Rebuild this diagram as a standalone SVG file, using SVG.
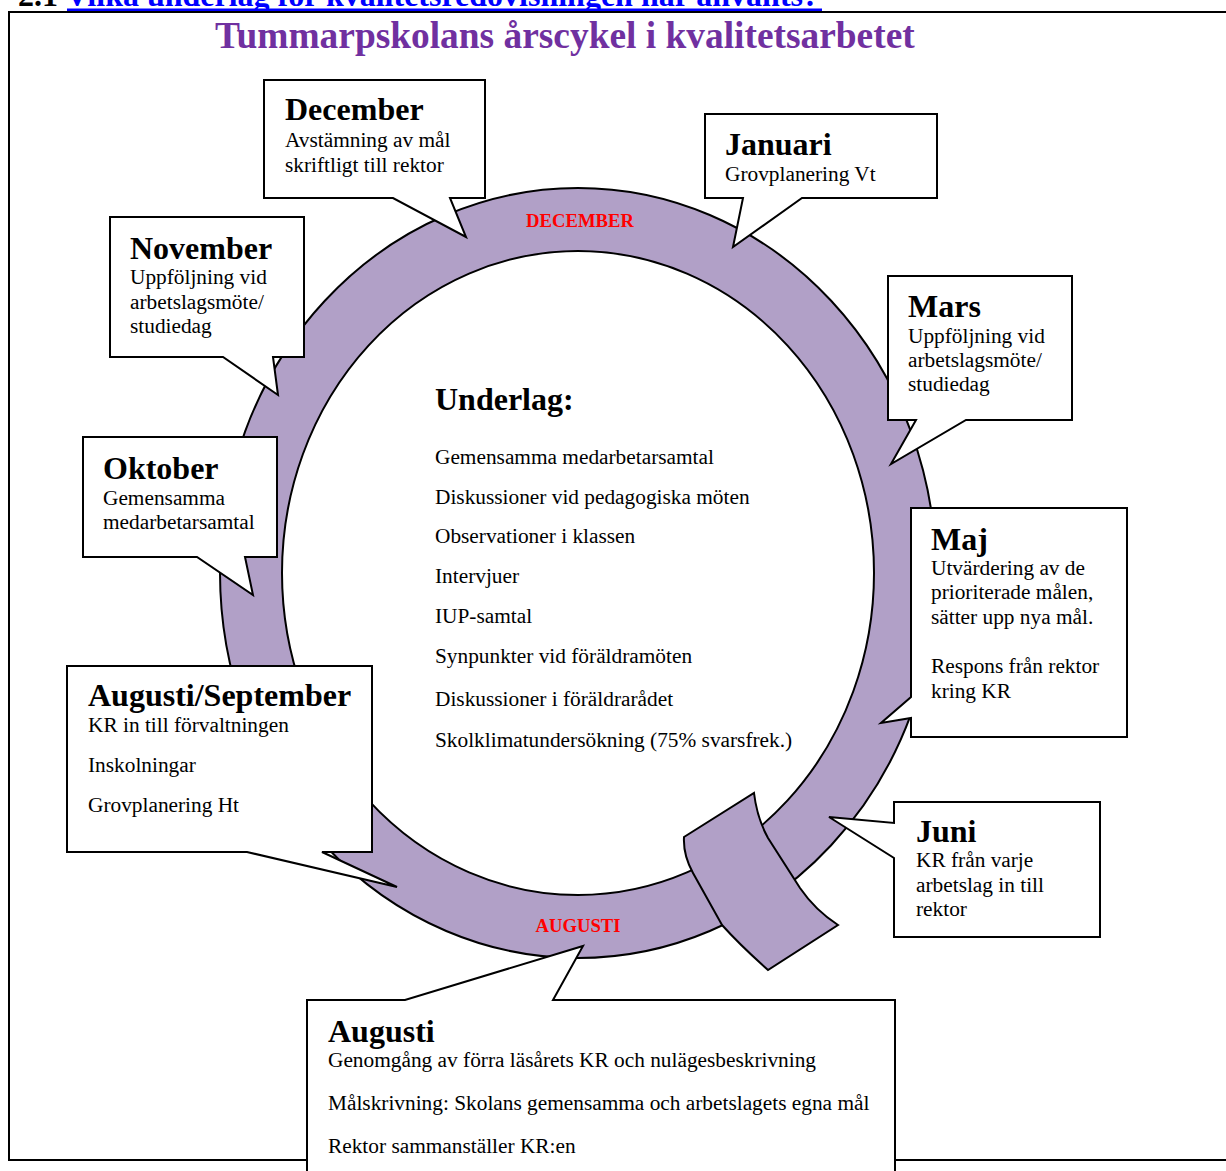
<svg xmlns="http://www.w3.org/2000/svg" width="1226" height="1171" viewBox="0 0 1226 1171">
<style>
text{font-family:"Liberation Serif","Times New Roman",serif;fill:#000}
.h{font-size:32px;font-weight:bold}
.b{font-size:21.33px}
.lbl{font-size:18.67px;font-weight:bold;fill:#FF0000}
.co{fill:#fff;stroke:#000;stroke-width:2;stroke-linejoin:miter}
.ring{fill:#B1A0C7;stroke:#000;stroke-width:2}
</style>
<rect width="1226" height="1171" fill="#fff"/>
<g id="header">
<text x="18" y="6" class="h">2.1 <tspan fill="#0000FF">Vilka underlag för kvalitetsredovisningen har använts?</tspan></text>
<rect x="67" y="8.5" width="755" height="2.5" fill="#0000FF"/>
</g>
<rect id="frame" x="9" y="12" width="1230" height="1148" fill="none" stroke="#000" stroke-width="2"/>
<text id="title" x="215" y="48" style="font-size:37.4px;font-weight:bold;fill:#7030A0">Tummarpskolans årscykel i kvalitetsarbetet</text>
<g id="connectors">
<path id="ring" class="ring" fill-rule="evenodd" d="M220,573 A358,385 0 1,0 936,573 A358,385 0 1,0 220,573 Z M282,573 A296,322 0 1,1 874,573 A296,322 0 1,1 282,573 Z"/>
<path id="ring-fold" class="ring" d="M684,837 L754,793 Q757,818 768,838 L800,888 Q815,910 838,925 L768,970 Q740,945 722,925 L693,873 Q683,855 684,837 Z"/>
<text x="580" y="227" class="lbl" text-anchor="middle">DECEMBER</text>
<text x="578" y="932" class="lbl" text-anchor="middle">AUGUSTI</text>
</g>
<g id="underlag">
<text x="435" y="410" class="h">Underlag:</text>
<text x="435" y="464" class="b">Gemensamma medarbetarsamtal</text>
<text x="435" y="504" class="b">Diskussioner vid pedagogiska möten</text>
<text x="435" y="543" class="b">Observationer i klassen</text>
<text x="435" y="583" class="b">Intervjuer</text>
<text x="435" y="623" class="b">IUP-samtal</text>
<text x="435" y="663" class="b">Synpunkter vid föräldramöten</text>
<text x="435" y="706" class="b">Diskussioner i föräldrarådet</text>
<text x="435" y="747" class="b">Skolklimatundersökning (75% svarsfrek.)</text>
</g>
<g id="december">
<path class="co" d="M264,80 H485 V198 H450 L466,237 L393,198 H264 Z"/>
<text x="285" y="120" class="h">December</text>
<text x="285" y="147" class="b">Avstämning av mål</text>
<text x="285" y="172" class="b">skriftligt till rektor</text>
</g>
<g id="januari">
<path class="co" d="M705,114 H937 V198 H802 L733,247 L743,198 H705 Z"/>
<text x="725" y="155" class="h">Januari</text>
<text x="725" y="181" class="b">Grovplanering Vt</text>
</g>
<g id="november">
<path class="co" d="M110,217 H304 V357 H273 L278,395 L223,357 H110 Z"/>
<text x="130" y="259" class="h">November</text>
<text x="130" y="284" class="b">Uppföljning vid</text>
<text x="130" y="309" class="b">arbetslagsmöte/</text>
<text x="130" y="333" class="b">studiedag</text>
</g>
<g id="mars">
<path class="co" d="M888,276 H1072 V420 H966 L891,464 L916,420 H888 Z"/>
<text x="908" y="317" class="h">Mars</text>
<text x="908" y="343" class="b">Uppföljning vid</text>
<text x="908" y="367" class="b">arbetslagsmöte/</text>
<text x="908" y="391" class="b">studiedag</text>
</g>
<g id="oktober">
<path class="co" d="M83,437 H277 V557 H245 L253,595 L197,557 H83 Z"/>
<text x="103" y="479" class="h">Oktober</text>
<text x="103" y="505" class="b">Gemensamma</text>
<text x="103" y="529" class="b">medarbetarsamtal</text>
</g>
<g id="maj">
<path class="co" d="M911,508 H1127 V737 H911 V718 L881,723 L911,697 Z"/>
<text x="931" y="550" class="h">Maj</text>
<text x="931" y="575" class="b">Utvärdering av de</text>
<text x="931" y="599" class="b">prioriterade målen,</text>
<text x="931" y="624" class="b">sätter upp nya mål.</text>
<text x="931" y="673" class="b">Respons från rektor</text>
<text x="931" y="698" class="b">kring KR</text>
</g>
<g id="augusti-september">
<path class="co" d="M67,666 H372 V852 H322 L397,887 L247,852 H67 Z"/>
<text x="88" y="706" class="h">Augusti/September</text>
<text x="88" y="732" class="b">KR in till förvaltningen</text>
<text x="88" y="772" class="b">Inskolningar</text>
<text x="88" y="812" class="b">Grovplanering Ht</text>
</g>
<g id="juni">
<path class="co" d="M894,802 H1100 V937 H894 V858 L829,817 L894,823 Z"/>
<text x="916" y="842" class="h">Juni</text>
<text x="916" y="867" class="b">KR från varje</text>
<text x="916" y="892" class="b">arbetslag in till</text>
<text x="916" y="916" class="b">rektor</text>
</g>
<g id="augusti">
<path class="co" d="M307,1000 H405 L583,946 L553,1000 H895 V1210 H307 Z"/>
<text x="328" y="1042" class="h">Augusti</text>
<text x="328" y="1067" class="b">Genomgång av förra läsårets KR och nulägesbeskrivning</text>
<text x="328" y="1110" class="b">Målskrivning: Skolans gemensamma och arbetslagets egna mål</text>
<text x="328" y="1153" class="b">Rektor sammanställer KR:en</text>
</g>
</svg>
